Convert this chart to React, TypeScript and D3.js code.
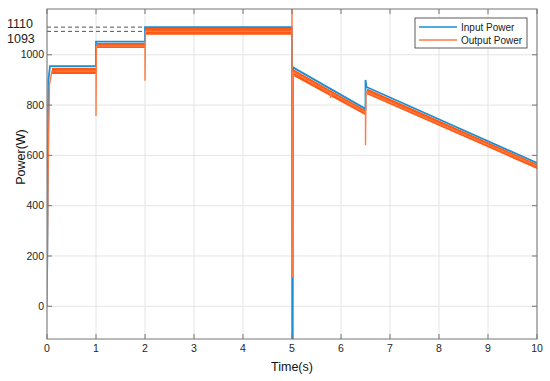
import React, { useEffect, useRef } from 'react';
import * as d3 from 'd3';

// Input power (blue)
const inputTime = [0.004, 0.03, 0.06, 1.0, 1.0, 2.0, 2.0, 5.0, 5.005, 5.015, 5.02, 6.5, 6.5, 6.52, 10];
const inputPower = [150, 900, 955, 955, 1052, 1052, 1110, 1110, -130, -130, 950, 785, 900, 872, 570];

// Output power (orange) thin trace, incl. spikes
const outputTime = [0, 0.02, 0.05, 0.1, 1.0, 1.0, 1.01, 2.0, 2.0, 2.01, 5.0, 5.0, 5.01, 5.02, 5.03, 5.78, 5.79, 5.8, 6.5, 6.5, 6.51, 10];
const outputPower = [0, 500, 880, 935, 935, 757, 1035, 1035, 897, 1093, 1093, 1200, 115, 900, 930, 848, 828, 847, 770, 640, 854, 557];

// Output ripple band (upper / lower envelope)
const bandTime = [0.1, 1.0, 1.0, 1.02, 2.0, 2.0, 2.02, 5.0, 5.0, 5.03, 6.5, 6.5, 6.53, 10];
const bandHigh = [948, 948, null, 1047, 1047, null, 1106, 1106, null, 942, 780, null, 866, 566];
const bandLow = [924, 924, null, 1027, 1027, null, 1080, 1080, null, 916, 760, null, 843, 546];

const xTicks = [0, 1, 2, 3, 4, 5, 6, 7, 8, 9, 10];
const yTicks = [0, 200, 400, 600, 800, 1000];
const refLevels = [1110, 1093];
const refLabels = ['1110', '1093'];
const seriesNames = ['Input Power', 'Output Power'];

const blue = '#1a8fd3';
const orange = '#ff5a14';
const orangeLight = '#ff7a45';

function App() {
  const ref = useRef<SVGSVGElement>(null);

  useEffect(() => {
    const svg = d3.select(ref.current);
    svg.selectAll('*').remove();

    const left = 47, right = 537, top = 9, bottom = 339;
    const x = d3.scaleLinear().domain([0, 10]).range([left, right]);
    const y = d3.scaleLinear().domain([-130, 1182]).range([bottom, top]);
    const font = 'Liberation Sans, Arial, sans-serif';
    const axisColor = '#767676';

    svg.append('rect').attr('width', 550).attr('height', 381).attr('fill', '#fff');

    // grid
    const grid = svg.append('g').attr('stroke', '#e4e4e4').attr('stroke-width', 1);
    xTicks.forEach(t => grid.append('line')
      .attr('x1', x(t)).attr('x2', x(t)).attr('y1', top).attr('y2', bottom));
    yTicks.forEach(t => grid.append('line')
      .attr('x1', left).attr('x2', right).attr('y1', y(t)).attr('y2', y(t)));

    // dashed reference lines
    refLevels.forEach((v, i) => {
      svg.append('line')
        .attr('x1', x(0)).attr('x2', x(2)).attr('y1', y(v)).attr('y2', y(v))
        .attr('stroke', '#555').attr('stroke-width', 1).attr('stroke-dasharray', '4,3');
      svg.append('text')
        .attr('x', 7).attr('y', i === 0 ? 28 : 43)
        .attr('font-family', font).attr('font-size', 12.5).attr('fill', '#222')
        .text(refLabels[i]);
    });

    const clip = svg.append('defs').append('clipPath').attr('id', 'plotclip');
    clip.append('rect').attr('x', left).attr('y', top).attr('width', right - left).attr('height', bottom - top);
    const plot = svg.append('g').attr('clip-path', 'url(#plotclip)');

    // input power
    const inLine = d3.line<number>().x((d, i) => x(inputTime[i])).y(d => y(d));
    plot.append('path').attr('d', inLine(inputPower))
      .attr('fill', 'none').attr('stroke', blue).attr('stroke-width', 1.8);

    // output ripple band
    const area = d3.area<number>()
      .defined((d, i) => bandHigh[i] != null)
      .x((d, i) => x(bandTime[i]))
      .y0((d, i) => y(bandLow[i] as number))
      .y1((d, i) => y(bandHigh[i] as number));
    plot.append('path').attr('d', area(bandTime)).attr('fill', orange);

    // output thin trace
    const outLine = d3.line<number>().x((d, i) => x(outputTime[i])).y(d => y(d));
    plot.append('path').attr('d', outLine(outputPower))
      .attr('fill', 'none').attr('stroke', orangeLight).attr('stroke-width', 1.4);

    // frame + axes
    svg.append('rect').attr('x', left).attr('y', top)
      .attr('width', right - left).attr('height', bottom - top)
      .attr('fill', 'none').attr('stroke', axisColor).attr('stroke-width', 1);

    const ax = svg.append('g').attr('stroke', axisColor);
    xTicks.forEach(t => {
      ax.append('line').attr('x1', x(t)).attr('x2', x(t)).attr('y1', bottom).attr('y2', bottom - 5);
      ax.append('line').attr('x1', x(t)).attr('x2', x(t)).attr('y1', top).attr('y2', top + 5);
    });
    yTicks.forEach(t => {
      ax.append('line').attr('x1', left).attr('x2', left + 5).attr('y1', y(t)).attr('y2', y(t));
      ax.append('line').attr('x1', right).attr('x2', right - 5).attr('y1', y(t)).attr('y2', y(t));
    });

    svg.append('g').selectAll('text').data(xTicks).enter().append('text')
      .attr('x', d => x(d)).attr('y', 352)
      .attr('text-anchor', 'middle').attr('font-family', font).attr('font-size', 10.5).attr('fill', '#262626')
      .text(d => d);
    svg.append('g').selectAll('text').data(yTicks).enter().append('text')
      .attr('x', 44).attr('y', d => y(d) + 3.6)
      .attr('text-anchor', 'end').attr('font-family', font).attr('font-size', 10.5).attr('fill', '#262626')
      .text(d => d);

    svg.append('text').attr('x', x(5)).attr('y', 371)
      .attr('text-anchor', 'middle').attr('font-family', font).attr('font-size', 12.5).attr('fill', '#111')
      .text('Time(s)');
    svg.append('text').attr('transform', 'translate(25,157) rotate(-90)')
      .attr('text-anchor', 'middle').attr('font-family', font).attr('font-size', 12.5).attr('fill', '#111')
      .text('Power(W)');

    // legend
    const lg = svg.append('g');
    lg.append('rect').attr('x', 415).attr('y', 18).attr('width', 112).attr('height', 30)
      .attr('fill', '#fff').attr('stroke', '#333').attr('stroke-width', 0.8);
    [blue, orangeLight].forEach((c, i) => {
      const yy = 27 + i * 13;
      lg.append('line').attr('x1', 419).attr('x2', 457).attr('y1', yy).attr('y2', yy)
        .attr('stroke', c).attr('stroke-width', 1.6);
      lg.append('text').attr('x', 461).attr('y', yy + 3.5)
        .attr('font-family', font).attr('font-size', 10).attr('fill', '#222')
        .text(seriesNames[i]);
    });
  }, []);

  return (
    <svg ref={ref} width={550} height={381}
      style={{ position: 'absolute', left: 0, top: 0 }} />
  );
}

export default App;
